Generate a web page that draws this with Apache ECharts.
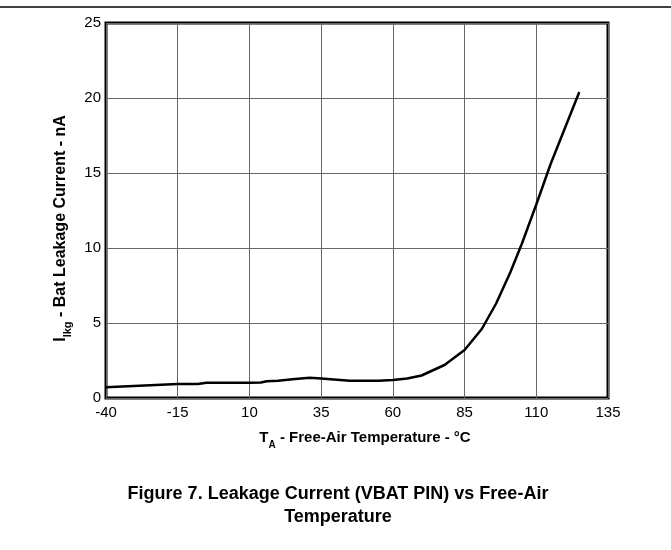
<!DOCTYPE html>
<html>
<head>
<meta charset="utf-8">
<script src="https://cdn.jsdelivr.net/npm/echarts@6/dist/echarts.min.js"></script>
<style>
html,body{margin:0;padding:0;background:#fff;}
#c{width:671px;height:550px;}
</style>
</head>
<body>
<div id="c"></div>
<script>
var temperatures = [-40, -15, -8, -5, 10, 14, 16, 20, 25, 31, 35, 45, 55, 60, 65, 70, 78, 85, 91, 96, 101, 105, 110, 115, 120, 125];
var leakage = [0.72, 0.93, 0.93, 1.02, 1.02, 1.03, 1.12, 1.15, 1.25, 1.35, 1.3, 1.15, 1.15, 1.2, 1.3, 1.5, 2.2, 3.2, 4.6, 6.3, 8.4, 10.3, 12.9, 15.6, 18.0, 20.4];
var xTicks = [-40, -15, 10, 35, 60, 85, 110, 135];
var yTicks = [0, 5, 10, 15, 20, 25];

var points = temperatures.map(function (t, i) { return [t, leakage[i]]; });
var font = 'Liberation Sans, Arial, sans-serif';

var chart = echarts.init(document.getElementById('c'), null, {renderer: 'canvas'});
chart.setOption({
  animation: false,
  backgroundColor: '#fff',
  grid: {left: 106, right: 63, top: 23, bottom: 152, show: true, borderColor: '#000', borderWidth: 3, containLabel: false},
  xAxis: {
    type: 'value',
    min: xTicks[0], max: xTicks[xTicks.length - 1], interval: 25,
    axisLine: {show: false},
    axisTick: {show: false},
    splitLine: {show: true, lineStyle: {color: '#666', width: 1}},
    axisLabel: {color: '#000', fontSize: 15, fontFamily: font, margin: 7},
    name: '{a|T}{s|A}{a| - Free-Air Temperature - °C}',
    nameLocation: 'middle',
    nameGap: 29,
    nameTextStyle: {
      padding: [0, 0, 0, 16],
      rich: {
        a: {fontSize: 15, fontWeight: 'bold', fontFamily: font, color: '#000', lineHeight: 18, verticalAlign: 'bottom'},
        s: {fontSize: 10, fontWeight: 'bold', fontFamily: font, color: '#000', lineHeight: 18, verticalAlign: 'bottom', padding: [0, 0, -5, 0]}
      }
    }
  },
  yAxis: {
    type: 'value',
    min: yTicks[0], max: yTicks[yTicks.length - 1], interval: 5,
    axisLine: {show: false},
    axisTick: {show: false},
    splitLine: {show: true, lineStyle: {color: '#666', width: 1}},
    axisLabel: {color: '#000', fontSize: 15, fontFamily: font, margin: 5},
    name: '{a|I}{s|lkg}{a| - Bat Leakage Current - nA}',
    nameLocation: 'middle',
    nameRotate: 90,
    nameGap: 36,
    nameTextStyle: {
      padding: [0, 36, 0, 0],
      rich: {
        a: {fontSize: 16, fontWeight: 'bold', fontFamily: font, color: '#000', lineHeight: 19, verticalAlign: 'bottom'},
        s: {fontSize: 11, fontWeight: 'bold', fontFamily: font, color: '#000', lineHeight: 19, verticalAlign: 'bottom', padding: [0, 0, -5, 0]}
      }
    }
  },
  series: [{
    type: 'line',
    data: points,
    showSymbol: false,
    symbol: 'none',
    lineStyle: {color: '#000', width: 2.5},
    z: 5
  }],
  graphic: [
    {type: 'line', shape: {x1: 0, y1: 7, x2: 671, y2: 7}, style: {stroke: '#000', lineWidth: 1.5}},
    {type: 'text', x: 338, y: 483, style: {text: 'Figure 7. Leakage Current (VBAT PIN) vs Free-Air\nTemperature', font: 'bold 18px ' + font, fill: '#000', textAlign: 'center', lineHeight: 23}}
  ]
});
</script>
</body>
</html>
